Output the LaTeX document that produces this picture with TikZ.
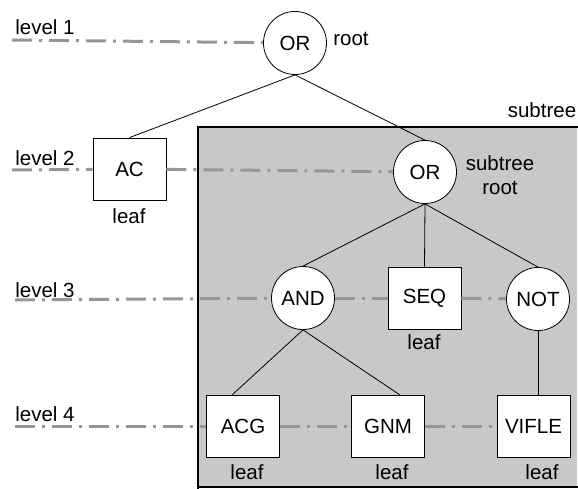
\documentclass[tikz,border=0pt]{standalone}
\usepackage{fontspec}
\setmainfont{Liberation Sans}
\usepackage{xcolor}
\definecolor{boxgray}{RGB}{200,200,203}
\definecolor{lvlgray}{RGB}{150,150,150}
\tikzset{
  gate/.style={circle,draw,fill=white,minimum size=63pt,inner sep=0pt},
  leafbox/.style={rectangle,draw,fill=white,minimum width=73pt,minimum height=62pt,inner sep=0pt},
  lvl/.style={draw=lvlgray,line width=3pt,dash pattern=on 20pt off 7pt on 3pt off 7pt},
  note/.style={inner sep=0pt}
}
\begin{document}
\begin{tikzpicture}[x=1pt,y=-1pt,font=\fontsize{20.5}{24}\selectfont,line width=0.8pt]

      \useasboundingbox (0,0) rectangle (578,489);

      \fill[boxgray] (198,127) rectangle (577,487);
      \draw[line width=1.2pt] (198,489) -- (198,127) -- (578,127);
      \draw[line width=1.2pt] (198,487) -- (578,487);

      \node[gate] (root) at (295,43) {OR};
      \node[leafbox] (ac) at (129.5,169) {AC};
      \node[gate] (sor) at (425,172) {OR};
      \node[gate] (and) at (303,298) {AND};
      \node[leafbox] (seq) at (424.5,298) {SEQ};
      \node[gate] (not) at (538,299) {NOT};
      \node[leafbox] (acg) at (243,426) {ACG};
      \node[leafbox] (gnm) at (388,426) {GNM};
      \node[leafbox] (vifle) at (533.5,426) {VIFLE};

      \coordinate (acgtop) at (232,395);
      \coordinate (gnmtop) at (400,395);

      \draw (root.south) -- (ac.north);
      \draw (root.south) -- (sor.north);
      \draw (sor.south) -- (and.north);
      \draw (sor.south) -- (seq.north);
      \draw (sor.south) -- (not.north);
      \draw (and.south) -- (acgtop);
      \draw (and.south) -- (gnmtop);
      \draw (not.south) -- (vifle.north -| not);

      \coordinate (l1) at (12,40);
      \coordinate (l2) at (12,170);
      \coordinate (l3) at (15,300);
      \coordinate (l4) at (15,426);

      \draw[lvl] (l1) -- (root);
      \draw[lvl] (l2) -- (ac);
      \draw[lvl] (ac) -- (sor);
      \draw[lvl] (l3) -- (and);
      \draw[lvl] (and) -- (seq);
      \draw[lvl] (seq) -- (not);
      \draw[lvl] (l4) -- (acg);
      \draw[lvl] (acg) -- (gnm);
      \draw[lvl] (gnm) -- (vifle);

      \node[note,anchor=base west] (t1) at (15,35) {level 1};
      \node[note,anchor=base west] (t2) at (15,166) {level 2};
      \node[note,anchor=base west] (t3) at (15,297) {level 3};
      \node[note,anchor=base west] (t4) at (15,421) {level 4};

      \node[note] (rootlbl) at (351,39) {root};
      \node[note] (subtreelbl) at (542,110) {subtree};
      \node[note,align=center] (sublbl) at (500,175) {subtree\\root};

      \foreach \n/\x/\y in {ac/129/216, seq/424/342, acg/247/472, gnm/392/472, vifle/542/472}
        \node[note] (\n leaf) at (\x,\y) {leaf};
    \end{tikzpicture}
\end{document}
